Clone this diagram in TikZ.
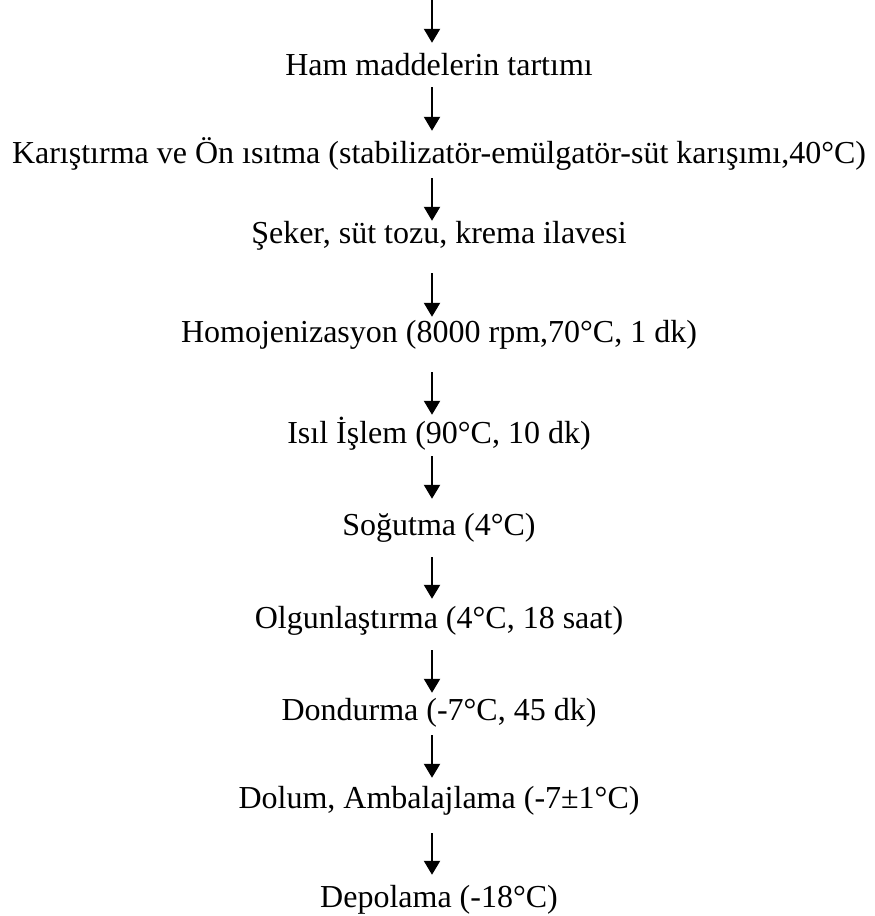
\documentclass[tikz,border=0pt]{standalone}
\usepackage{fontspec}
\setmainfont{Liberation Serif}
\usetikzlibrary{arrows.meta}

\begin{document}
\begin{tikzpicture}[x=1pt,y=-1pt,
    stepnode/.style={font=\fontsize{32}{38}\selectfont, inner sep=0pt,
      text height=22pt, text depth=7pt, anchor=base},
    flow/.style={line width=2.2pt, -{Triangle[length=14pt,width=16pt]}}]
  \useasboundingbox (0,0) rectangle (875,916);

  % process steps
  \coordinate (top) at (432,0);
  \node[stepnode] (s1) at (439,75) {Ham maddelerin tartımı};
  \node[stepnode] (s2) at (439,163) {Karıştırma ve Ön ısıtma (stabilizatör-emülgatör-süt karışımı,40°C)};
  \node[stepnode] (s3) at (439,243) {Şeker, süt tozu, krema ilavesi};
  \node[stepnode] (s4) at (439,342) {Homojenizasyon (8000 rpm,70°C, 1 dk)};
  \node[stepnode] (s5) at (439,443) {Isıl İşlem (90°C, 10 dk)};
  \node[stepnode] (s6) at (439,535) {Soğutma (4°C)};
  \node[stepnode] (s7) at (439,628) {Olgunlaştırma (4°C, 18 saat)};
  \node[stepnode] (s8) at (439,720) {Dondurma (-7°C, 45 dk)};
  \node[stepnode] (s9) at (439,808) {Dolum, Ambalajlama (-7±1°C)};
  \node[stepnode] (s10) at (439,907) {Depolama (-18°C)};

  % arrows (gaps as in the scan)
  \draw[flow, shorten >=10pt] (top) -- (top |- s1.north);
  \foreach \a/\b/\ss/\se in {s1/s2/5/10,s2/s3/8/0,s3/s4/23/3,s4/s5/23/6,
      s5/s6/6/14,s6/s7/15/7,s7/s8/15/5,s8/s9/8/8,s9/s10/18/10}
    \draw[flow, shorten <=\ss pt, shorten >=\se pt]
      ([xshift=-7pt]\a.south) -- ([xshift=-7pt]\b.north);
\end{tikzpicture}
\end{document}
